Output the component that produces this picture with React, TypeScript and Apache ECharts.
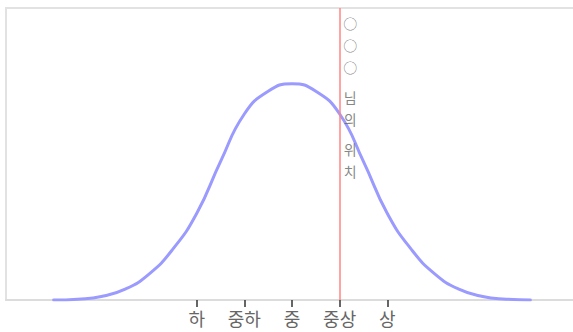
import React, { useEffect, useRef } from "react";
import * as echarts from "echarts";

// Bell curve sample points (x position in level units, relative height)
const curveX = [-5, -4.5, -4, -3.5, -3, -2.5, -2, -1.5, -1, -0.5, 0, 0.5, 1, 1.5, 2, 2.5, 3, 3.5, 4, 4.5, 5];
const curveY = [0, 0.4, 1.6, 5, 12, 23.5, 40, 64, 86, 96.5, 100, 96.5, 86, 64, 40, 23.5, 12, 5, 1.6, 0.4, 0];

// Level tick labels and their positions
const levelLabels = ["하", "중하", "중", "중상", "상"];
const levelPositions = [-2, -1, 0, 1, 2];

// User's position marker
const userPosition = 1;
const userLabelChars = ["○", "○", "○", " ", "님", "의", " ", "위", "치"];

const X_MIN = -6;
const X_MAX = 6;
const Y_MAX = 135;

export default function App() {
  const ref = useRef<HTMLDivElement>(null);
  useEffect(() => {
    if (!ref.current) return;
    const chart = echarts.init(ref.current, undefined, { renderer: "svg" });
    const labelText = userLabelChars
      .map((c) => (c === " " ? "{s| }" : "{c|" + c + "}"))
      .join("\n");
    chart.setOption({
      animation: false,
      grid: {
        show: true,
        left: 6,
        top: 8,
        right: 2,
        bottom: 32,
        borderColor: "#e2e2e2",
        borderWidth: 2,
        backgroundColor: "#fff",
      },
      xAxis: {
        type: "value",
        min: X_MIN,
        max: X_MAX,
        interval: 1,
        splitLine: { show: false },
        axisLine: { show: true, lineStyle: { color: "#dcdcdc", width: 2 } },
        axisTick: {
          show: true,
          customValues: levelPositions,
          length: 7,
          lineStyle: { color: "#333", width: 1.5 },
        },
        axisLabel: {
          show: true,
          customValues: levelPositions,
          margin: 9,
          fontSize: 18,
          color: "#666",
          fontFamily: "Noto Sans CJK KR",
          formatter: (v: number) => {
            const i = levelPositions.indexOf(Math.round(v));
            return i >= 0 ? levelLabels[i] : "";
          },
        },
      },
      yAxis: {
        type: "value",
        min: 0,
        max: Y_MAX,
        show: false,
        splitLine: { show: false },
      },
      series: [
        {
          type: "line",
          data: curveX.map((x, i) => [x, curveY[i]]),
          smooth: 0.5,
          showSymbol: false,
          symbol: "none",
          lineStyle: { color: "#9a9aff", width: 3, cap: "round" },
          markLine: {
            silent: true,
            symbol: "none",
            label: { show: false },
            lineStyle: { color: "#ff8585", width: 1.5, type: "solid" },
            data: [{ xAxis: userPosition }],
          },
          z: 3,
        },
        {
          type: "scatter",
          data: [[userPosition, Y_MAX]],
          symbolSize: 1,
          itemStyle: { color: "transparent" },
          silent: true,
          label: {
            show: true,
            position: [11, 4],
            align: "center",
            verticalAlign: "top",
            formatter: labelText,
            rich: {
              c: {
                fontSize: 14,
                lineHeight: 22,
                color: "#666",
                fontFamily: "Noto Sans CJK KR",
              },
              s: { fontSize: 6, lineHeight: 8 },
            },
          },
          z: 4,
        },
      ],
    });
    return () => chart.dispose();
  }, []);
  return (
    <div
      style={{
        position: "absolute",
        left: 0,
        top: 0,
        width: 573,
        height: 332,
        overflow: "hidden",
      }}
    >
      <div ref={ref} style={{ width: 580, height: 332 }} />
    </div>
  );
}
